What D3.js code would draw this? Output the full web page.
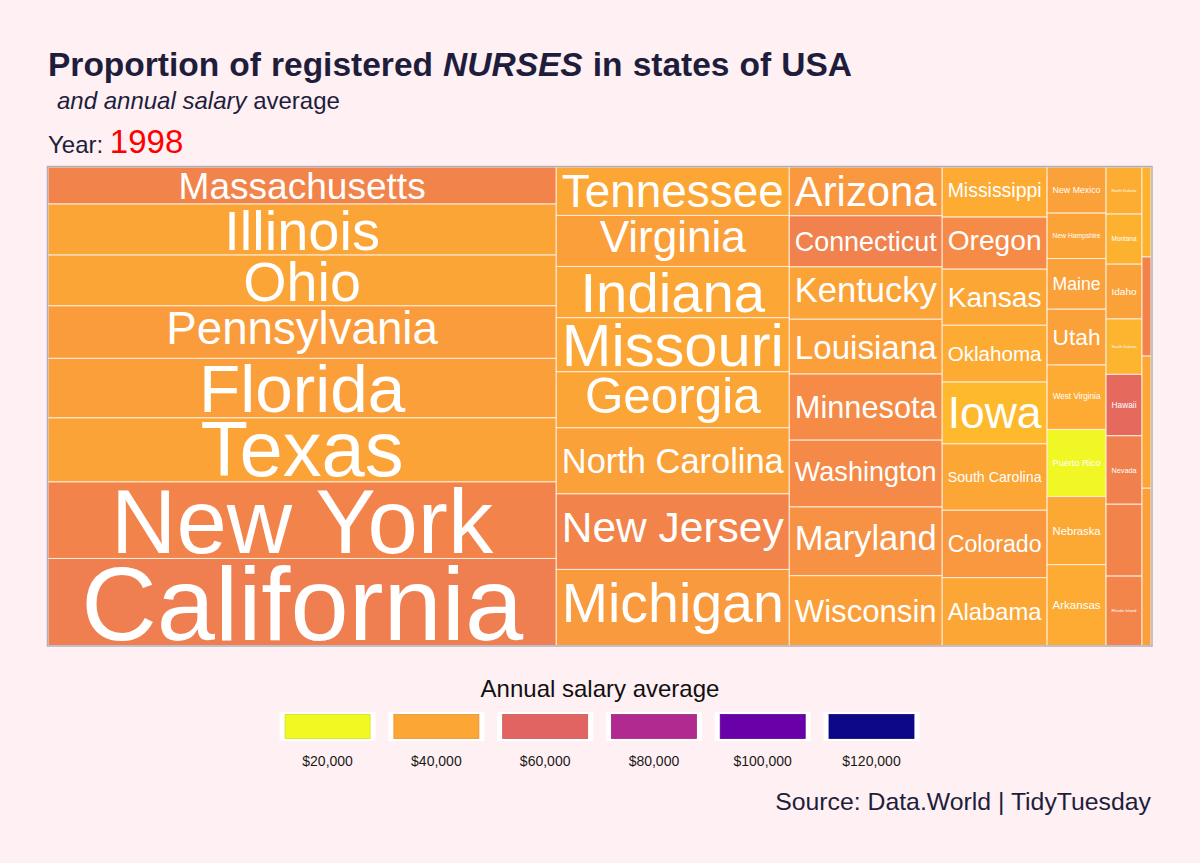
<!DOCTYPE html>
<html>
<head>
<meta charset="utf-8">
<script src="https://cdn.jsdelivr.net/npm/d3@7"></script>
<style>
  html, body { margin: 0; padding: 0; background: #fff0f3; }
  svg { display: block; }
  text { font-family: "Liberation Sans", Arial, Helvetica, sans-serif; }
</style>
</head>
<body>
<svg id="chart" width="1200" height="863"></svg>
<script>
// ---------------- DATA ----------------
const states = [
  "Massachusetts","Illinois","Ohio","Pennsylvania","Florida","Texas","New York","California",
  "Tennessee","Virginia","Indiana","Missouri","Georgia","North Carolina","New Jersey","Michigan",
  "Arizona","Connecticut","Kentucky","Louisiana","Minnesota","Washington","Maryland","Wisconsin",
  "Mississippi","Oregon","Kansas","Oklahoma","Iowa","South Carolina","Colorado","Alabama",
  "New Mexico","New Hampshire","Maine","Utah","West Virginia","Puerto Rico","Nebraska","Arkansas",
  "North Dakota","Montana","Idaho","South Dakota","Hawaii","Nevada","District of Columbia","Rhode Island",
  "Wyoming","Alaska","Vermont","Delaware"
];
const columnOf = [
  1,1,1,1,1,1,1,1,
  2,2,2,2,2,2,2,2,
  3,3,3,3,3,3,3,3,
  4,4,4,4,4,4,4,4,
  5,5,5,5,5,5,5,5,
  6,6,6,6,6,6,6,6,
  7,7,7,7
];
const nurses = [
  72370, 99800, 99300, 102680, 116370, 125170, 149620, 170150,
  43420, 45750, 45930, 48440, 50230, 59210, 67730, 68180,
  28690, 30040, 30810, 32220, 38880, 39290, 40410, 41060,
  20210, 21020, 22640, 22920, 24940, 26800, 27210, 27370,
  10450, 10310, 11490, 12650, 14610, 15220, 15450, 18330,
  6510, 6930, 7580, 7660, 8500, 9470, 9940, 9600,
  3110, 3430, 4570, 5440
];
const salaries = [
  50000, 40500, 40500, 43000, 42000, 41000, 50000, 52000,
  40000, 42000, 40000, 40000, 40500, 41500, 50000, 43500,
  44000, 50500, 41000, 42000, 48000, 48500, 46000, 42000,
  39000, 48000, 40000, 39000, 35000, 40000, 44000, 40000,
  41500, 41000, 41500, 41500, 39000, 20500, 39500, 39000,
  38000, 37000, 41500, 36500, 58000, 51000, 50000, 49500,
  37000, 50000, 40000, 42000
];
const legendBreaks = [20000, 40000, 60000, 80000, 100000, 120000];
const salaryLimits = [20000, 120000];

// ---------------- SETUP ----------------
const svg = d3.select("#chart");
const W = 1200, H = 863;
svg.append("rect").attr("width", W).attr("height", H).attr("fill", "#fff0f3");

const panel = { x0: 48, y0: 167, x1: 1151, y1: 645.5 };
const dark = "#1e1e3c";
const fontFam = "'Liberation Sans', Arial, Helvetica, sans-serif";

const tScale = d3.scaleLinear().domain(salaryLimits).range([1, 0]).clamp(true);
const color = v => d3.interpolatePlasma(tScale(v));

// ---------------- TITLES ----------------
const title = svg.append("text")
  .attr("x", 48).attr("y", 76)
  .attr("font-size", 33.5).attr("font-weight", "bold").attr("fill", dark);
title.append("tspan").text("Proportion of registered ");
title.append("tspan").attr("font-style", "italic").text("NURSES");
title.append("tspan").text(" in states of USA");
{
  const len = title.node().getComputedTextLength();
  const target = 804;
  const ws = Math.max(0, (target - len) / 7);
  title.attr("word-spacing", ws.toFixed(2));
}

const sub = svg.append("text")
  .attr("x", 57).attr("y", 109)
  .attr("font-size", 24).attr("fill", dark);
sub.append("tspan").attr("font-style", "italic").text("and annual salary");
sub.append("tspan").text(" average");

const yr = svg.append("text")
  .attr("x", 48).attr("y", 153).attr("fill", dark);
yr.append("tspan").attr("font-size", 24).text("Year: ");
yr.append("tspan").attr("font-size", 33).attr("fill", "#ff0000").text("1998");

// ---------------- TREEMAP ----------------
const cols = d3.range(1, 8).map(c => ({
  children: states.map((s, i) => i).filter(i => columnOf[i] === c)
    .map(i => ({ name: states[i], value: nurses[i], salary: salaries[i] }))
}));
const root = d3.hierarchy({ children: cols }).sum(d => d.value || 0);

d3.treemap()
  .size([panel.x1 - panel.x0, panel.y1 - panel.y0])
  .round(false)
  .tile((node, x0, y0, x1, y1) => {
    if (node.depth === 0) d3.treemapDice(node, x0, y0, x1, y1);
    else d3.treemapSlice(node, x0, y0, x1, y1);
  })(root);

const gMap = svg.append("g").attr("transform", `translate(${panel.x0},${panel.y0})`);
const leaves = root.leaves();

gMap.selectAll("rect.tile").data(leaves).join("rect")
  .attr("class", "tile")
  .attr("x", d => d.x0).attr("y", d => d.y0)
  .attr("width", d => d.x1 - d.x0).attr("height", d => d.y1 - d.y0)
  .attr("fill", d => color(d.data.salary))
  .attr("stroke", "rgba(255,238,222,0.95)")
  .attr("stroke-width", 1);

// label fitting (grow text to fill each tile, keep padding)
const ctx = document.createElement("canvas").getContext("2d");
ctx.font = `100px ${fontFam}`;
const padX = 5.5, padY = 4.8, minSize = 4;
const labels = leaves.map(d => {
  const m = ctx.measureText(d.data.name);
  const w100 = m.width;
  const asc = m.actualBoundingBoxAscent, desc = m.actualBoundingBoxDescent;
  const h100 = asc + desc;
  const aw = (d.x1 - d.x0) - 2 * padX, ah = (d.y1 - d.y0) - 2 * padY;
  const size = aw > 0 && ah > 0 ? 100 * Math.min(aw / w100, ah / h100) : 0;
  const s = size / 100;
  return {
    d, size,
    x: (d.x0 + d.x1) / 2,
    y: (d.y0 + d.y1) / 2 + (asc - desc) * s / 2
  };
}).filter(l => l.size >= minSize);

gMap.selectAll("text.lab").data(labels).join("text")
  .attr("class", "lab")
  .attr("x", l => l.x).attr("y", l => l.y)
  .attr("text-anchor", "middle")
  .attr("font-size", l => l.size.toFixed(2))
  .attr("fill", "#ffffff")
  .text(l => l.d.data.name);

// panel border
svg.append("rect")
  .attr("x", panel.x0 - 0.5).attr("y", panel.y0 - 0.5)
  .attr("width", panel.x1 - panel.x0 + 1.5).attr("height", panel.y1 - panel.y0 + 1)
  .attr("fill", "none").attr("stroke", "#aeb0bd").attr("stroke-width", 1.5);

// ---------------- LEGEND ----------------
const lx = d3.scalePoint().domain(legendBreaks).range([327.6, 871.5]);
const keyW = 96, keyH = 29, keyTop = 712;
const gLeg = svg.append("g");
gLeg.append("text")
  .attr("x", 600).attr("y", 697).attr("text-anchor", "middle")
  .attr("font-size", 24).attr("fill", "#111111")
  .text("Annual salary average");

const keys = gLeg.selectAll("g.key").data(legendBreaks).join("g").attr("class", "key");
keys.append("rect")
  .attr("x", d => lx(d) - keyW / 2).attr("y", keyTop)
  .attr("width", keyW).attr("height", keyH).attr("fill", "#ffffff");
keys.append("rect")
  .attr("x", d => lx(d) - keyW / 2 + 5.5).attr("y", keyTop + 2.5)
  .attr("width", keyW - 11).attr("height", keyH - 5)
  .attr("fill", d => color(d))
  .attr("stroke", d => d3.color(color(d)).darker(0.3)).attr("stroke-width", 0.8);
keys.append("text")
  .attr("x", d => lx(d)).attr("y", 766)
  .attr("text-anchor", "middle").attr("font-size", 14).attr("fill", "#1a1a1a")
  .text(d => d3.format("$,")(d));

// ---------------- CAPTION ----------------
svg.append("text")
  .attr("x", 1151).attr("y", 810).attr("text-anchor", "end")
  .attr("font-size", 24.8).attr("fill", dark)
  .text("Source: Data.World | TidyTuesday");
</script>
</body>
</html>
